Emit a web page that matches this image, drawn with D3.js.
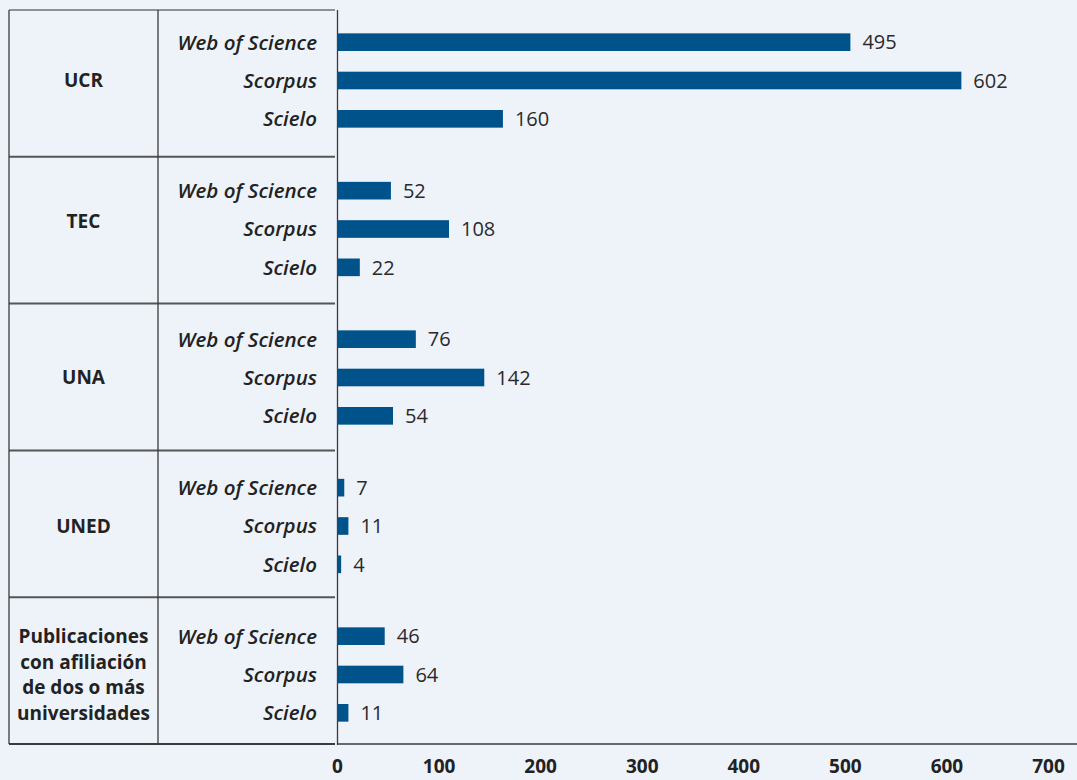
<!DOCTYPE html>
<html><head><meta charset="utf-8">
<script src="https://cdn.jsdelivr.net/npm/d3@7"></script>
<style>
html,body{margin:0;padding:0;background:#eef3fa;}
svg{display:block;font-family:"Open Sans","Noto Sans",sans-serif;}
</style></head>
<body>
<svg id="c" width="1077" height="780"></svg>
<script>
const groups = ["UCR","TEC","UNA","UNED","Publicaciones con afiliación de dos o más universidades"];
const groupLines = [["UCR"],["TEC"],["UNA"],["UNED"],["Publicaciones","con afiliación","de dos o más","universidades"]];
const sources = ["Web of Science","Scorpus","Scielo"];
const webOfScience = [495,52,76,7,46];
const scorpus = [602,108,142,11,64];
const scielo = [160,22,54,4,11];
const tickLabels = [0,100,200,300,400,500,600,700];

(function(){
const series = [webOfScience, scorpus, scielo];
const data = [];
groups.forEach((g,gi)=>sources.forEach((s,si)=>data.push({g, s, v: series[si][gi]})));

const svg = d3.select("#c");
const W=1077, H=780;
svg.append("rect").attr("width",W).attr("height",H).attr("fill","#eef3fa");

const yTop=10, yBot=744, tableL=9, colSplit=158, tableR=335, axisX=337.5;
const yG = d3.scaleBand().domain(groups).range([yTop,yBot]);          // table rows
const yB = d3.scaleBand().domain(groups).range([9,751.5]);           // bar groups
const yS = d3.scaleBand().domain(sources).range([14,129]).paddingInner(0.54).paddingOuter(0.27);
const x = d3.scaleLinear().domain([0,700]).range([337,1063]);
const xTicks = d3.scaleLinear().domain([0,700]).range([337,1048]);

const lines = svg.append("g").attr("stroke","#3a3a3a").attr("fill","none");
lines.append("line").attr("x1",tableL).attr("x2",tableR).attr("y1",yTop).attr("y2",yTop).attr("stroke","#707070").attr("stroke-width",1.5);
groups.forEach((g,i)=>{
  if(i>0) lines.append("line").attr("x1",tableL).attr("x2",tableR).attr("y1",yG(g)).attr("y2",yG(g)).attr("stroke","#555").attr("stroke-width",2);
});
lines.append("line").attr("x1",tableL).attr("x2",tableR).attr("y1",yBot).attr("y2",yBot).attr("stroke-width",2);
lines.append("line").attr("x1",tableL).attr("x2",tableL).attr("y1",yTop).attr("y2",yBot).attr("stroke-width",1.3);
lines.append("line").attr("x1",colSplit).attr("x2",colSplit).attr("y1",yTop).attr("y2",yBot).attr("stroke-width",1.3);
lines.append("line").attr("x1",axisX).attr("x2",axisX).attr("y1",yTop).attr("y2",yBot+1).attr("stroke-width",1.3);
lines.append("line").attr("x1",axisX).attr("x2",W).attr("y1",yBot).attr("y2",yBot).attr("stroke-width",1.5);

const cy = d=>yB(d.g)+yS(d.s)+yS.bandwidth()/2;

svg.append("g").selectAll("rect").data(data).join("rect")
  .attr("x", x(0))
  .attr("y", d=>yB(d.g)+yS(d.s))
  .attr("width", d=>x(d.v)-x(0))
  .attr("height", yS.bandwidth())
  .attr("fill","#00528a");

svg.append("g").selectAll("text").data(data).join("text")
  .attr("x", d=>x(d.v)+12)
  .attr("y", cy)
  .attr("dy","0.36em")
  .attr("font-size",20).attr("fill","#2a2a2a")
  .text(d=>d.v);

svg.append("g").selectAll("text").data(data).join("text")
  .attr("x", 317)
  .attr("y", cy)
  .attr("dy","0.36em")
  .attr("text-anchor","end")
  .attr("font-size",20.5).attr("font-style","italic").attr("font-weight",600).attr("fill","#222")
  .text(d=>d.s);

const gl = svg.append("g").selectAll("text").data(groups).join("text")
  .attr("text-anchor","middle")
  .attr("font-size",19).attr("font-weight",700).attr("fill","#222")
  .attr("x",(tableL+colSplit)/2);
gl.each(function(g,i){
  const ls = groupLines[i];
  const c = yB(g)+yS(sources[1])+yS.bandwidth()/2 + (i===1 ? -8 : 0);
  const lh = 25.5;
  d3.select(this).selectAll("tspan").data(ls).join("tspan")
    .attr("x",(tableL+colSplit)/2)
    .attr("y",(d,j)=>c+(j-(ls.length-1)/2)*lh)
    .attr("dy","0.36em")
    .text(d=>d);
});

const ax = svg.append("g").attr("transform",`translate(0,${yBot})`)
  .call(d3.axisBottom(xTicks).tickValues(tickLabels).tickSize(0).tickPadding(16).tickFormat(d3.format("d")));
ax.select(".domain").remove();
ax.selectAll("text").attr("font-size",19).attr("font-weight",700).attr("fill","#222")
  .attr("font-family","'Open Sans','Noto Sans',sans-serif");
})();
</script>
</body></html>
